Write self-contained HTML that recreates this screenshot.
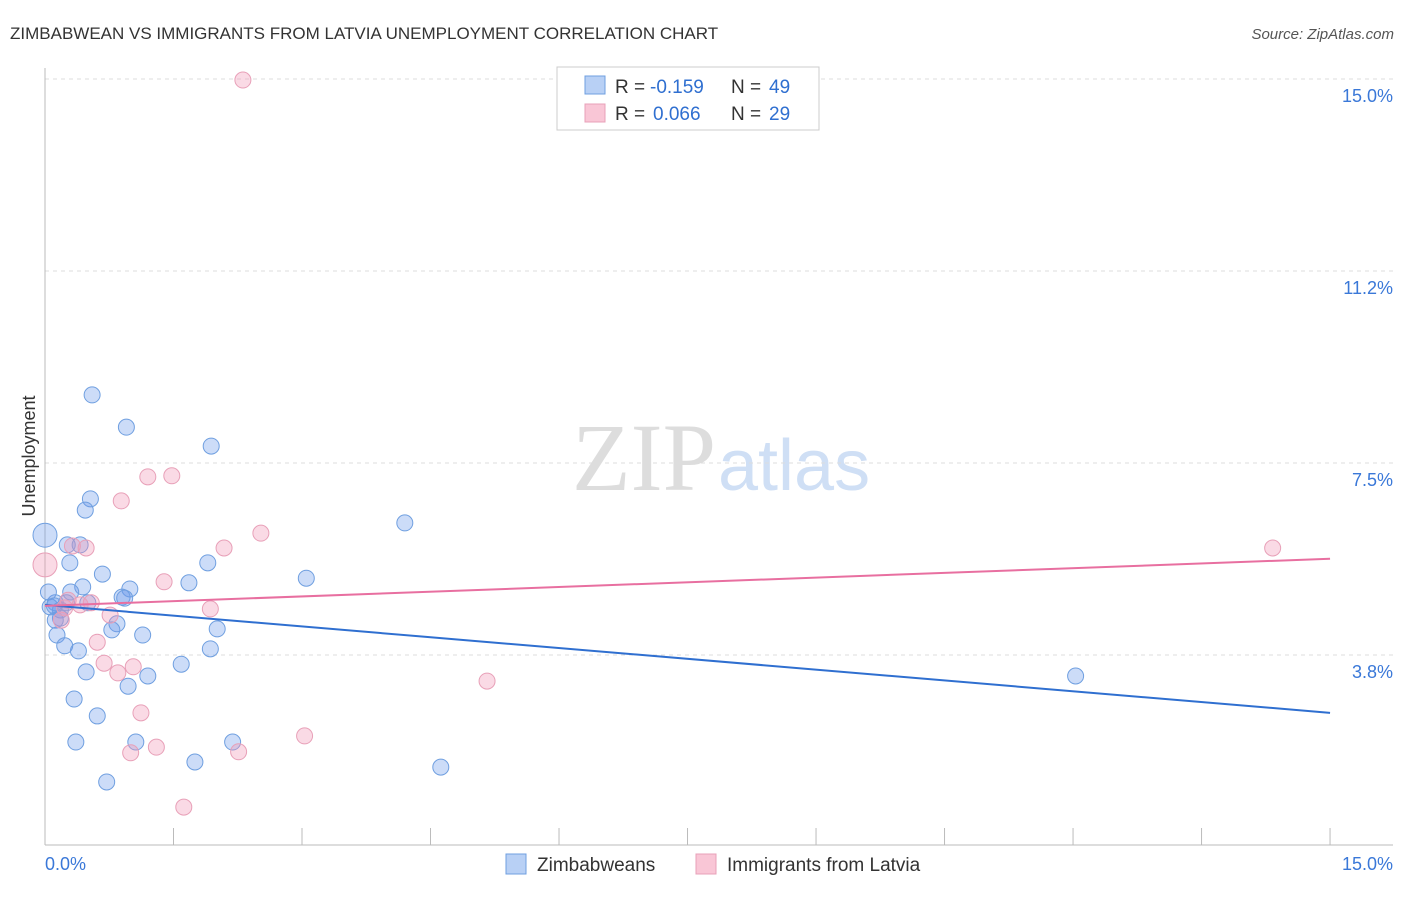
<!DOCTYPE html>
<html><head><meta charset="utf-8"><style>
body{margin:0;background:#fff;font-family:"Liberation Sans",sans-serif;}
</style></head><body>
<svg width="1406" height="892" xmlns="http://www.w3.org/2000/svg" id="c">
<text x="10" y="39" font-size="17" fill="#333">ZIMBABWEAN VS IMMIGRANTS FROM LATVIA UNEMPLOYMENT CORRELATION CHART</text>
<text x="1394" y="39" font-size="15" fill="#555" font-style="italic" text-anchor="end">Source: ZipAtlas.com</text>
<text x="716" y="490" font-size="96" fill="#ddd" font-family="Liberation Serif,serif" text-anchor="end">ZIP</text>
<text x="718" y="490" font-size="72" fill="#cfdff5">atlas</text>
<text x="35" y="456" font-size="18" fill="#333" text-anchor="middle" transform="rotate(-90 35 456)">Unemployment</text>
<g id="grid"></g><g id="axes"></g><g id="pts"></g><g id="lines"></g>
<g>
<rect x="557" y="67" width="262" height="63" fill="#fff" stroke="#ccc"/>
<rect x="585" y="76" width="20" height="18" fill="#b8d0f5" stroke="#6f9fe0"/>
<rect x="585" y="104" width="20" height="18" fill="#f9c6d6" stroke="#e8a0b8"/>
<text x="615" y="93" font-size="19" fill="#333">R =</text>
<text x="650" y="93" font-size="19" fill="#2f6fd0">-0.159</text>
<text x="731" y="93" font-size="19" fill="#333">N =</text>
<text x="769" y="93" font-size="19" fill="#2f6fd0">49</text>
<text x="615" y="120" font-size="19" fill="#333">R =</text>
<text x="653" y="120" font-size="19" fill="#2f6fd0">0.066</text>
<text x="731" y="120" font-size="19" fill="#333">N =</text>
<text x="769" y="120" font-size="19" fill="#2f6fd0">29</text>
</g>
<g>
<rect x="506" y="854" width="20" height="20" fill="#b8d0f5" stroke="#6f9fe0"/>
<text x="537" y="871" font-size="19" fill="#333">Zimbabweans</text>
<rect x="696" y="854" width="20" height="20" fill="#f9c6d6" stroke="#e8a0b8"/>
<text x="727" y="871" font-size="19" fill="#333">Immigrants from Latvia</text>
</g>
</svg>
<script>
const yTicks=[15.0,11.25,7.5,3.75];
const yTickLabels=["15.0%","11.2%","7.5%","3.8%"];
const xTickLabels=["0.0%","15.0%"];
const blueX=[0.0,0.55,0.95,1.94,0.53,0.47,4.20,0.26,0.41,0.29,1.90,0.67,3.05,1.68,0.44,0.99,0.30,0.90,0.93,0.12,0.25,0.50,0.06,0.18,0.18,0.12,0.84,0.78,2.01,0.14,1.14,0.23,1.93,0.39,1.59,0.48,1.20,12.03,0.97,0.34,0.61,0.36,1.06,2.19,1.75,4.62,0.72,0.04,0.11];
const blueY=[6.09,8.83,8.20,7.83,6.80,6.58,6.33,5.90,5.90,5.55,5.55,5.33,5.25,5.16,5.08,5.04,4.98,4.88,4.86,4.77,4.77,4.77,4.69,4.63,4.47,4.43,4.36,4.24,4.26,4.14,4.14,3.93,3.87,3.83,3.57,3.42,3.34,3.34,3.14,2.89,2.56,2.05,2.05,2.05,1.66,1.56,1.27,4.98,4.71];
const pinkX=[2.31,1.48,1.20,0.89,2.52,2.09,0.48,0.32,0.0,1.39,14.33,1.93,0.54,0.27,0.76,0.19,0.61,0.69,1.03,0.85,5.16,1.12,3.03,1.30,1.00,2.26,1.62,0.41,0.23];
const pinkY=[14.98,7.25,7.23,6.76,6.13,5.84,5.84,5.88,5.51,5.18,5.84,4.65,4.77,4.82,4.53,4.43,4.00,3.59,3.52,3.40,3.24,2.62,2.17,1.95,1.84,1.86,0.78,4.73,4.67];
const blueTrend=[4.73,2.62];
const pinkTrend=[4.71,5.63];
const NS="http://www.w3.org/2000/svg";
const X=v=>45+v*85.67, Y=v=>847-v*51.2;
function mk(t,a,p){const e=document.createElementNS(NS,t);for(const k in a)e.setAttribute(k,a[k]);document.getElementById(p).appendChild(e);return e;}
yTicks.forEach((v,i)=>{
 const l=mk('line',{x1:45,x2:1393,y1:Y(v),y2:Y(v),stroke:'#ddd','stroke-dasharray':'4,4'},'grid');
 
 
 const t=mk('text',{x:1393,y:Y(v)+23,'font-size':18,fill:'#3a78d8','text-anchor':'end'},'grid');t.textContent=yTickLabels[i];
 
 
});
let a=mk('line',{x1:45,x2:45,y1:68,y2:845,stroke:'#bbb'},'axes');


a=mk('line',{x1:45,x2:1393,y1:845,y2:845,stroke:'#bbb'},'axes');


for(let i=1;i<=10;i++){const tk=mk('line',{x1:X(i*1.5),x2:X(i*1.5),y1:828,y2:845,stroke:'#bbb'},'axes');
 
 }
[[0,'start',45],[15,'end',1393]].forEach((d,i)=>{const t=mk('text',{x:d[2],y:870,'font-size':18,fill:'#3a78d8','text-anchor':d[1]},'axes');t.textContent=xTickLabels[i];
 
 });
function pts(xs,ys,fill,stroke,name){xs.forEach((x,i)=>{const big=(x===0);const c=mk('circle',{cx:X(x),cy:Y(ys[i]),r:big?12:8,fill:fill,stroke:stroke,'stroke-width':1},'pts');
 
 });}
pts(blueX,blueY,'rgba(110,155,235,0.35)','#6f9fe0','zimbabwean-point');
pts(pinkX,pinkY,'rgba(240,150,180,0.35)','#e8a0b8','latvia-point');
let tl=mk('line',{x1:X(0),x2:X(15),y1:Y(blueTrend[0]),y2:Y(blueTrend[1]),stroke:'#2f6fd0','stroke-width':2},'lines');


tl=mk('line',{x1:X(0),x2:X(15),y1:Y(pinkTrend[0]),y2:Y(pinkTrend[1]),stroke:'#e86fa0','stroke-width':2},'lines');


</script>
</body></html>
